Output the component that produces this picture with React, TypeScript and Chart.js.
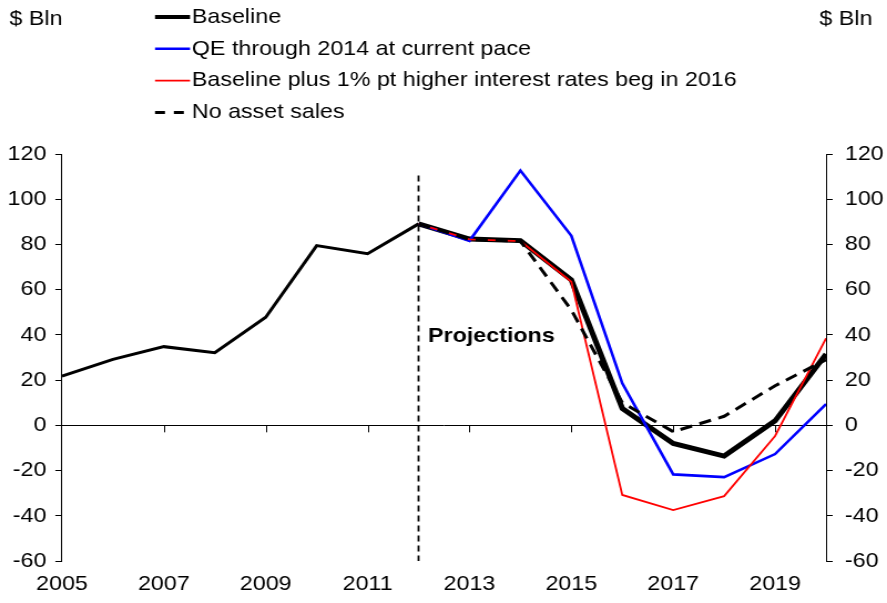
import React, { useEffect, useRef } from 'react';
import { Chart, registerables } from 'chart.js';

Chart.register(...registerables);

// ---- data ----
const years = [2005, 2006, 2007, 2008, 2009, 2010, 2011, 2012, 2013, 2014, 2015, 2016, 2017, 2018, 2019, 2020];
const baseline = [21.8, 29.2, 34.8, 32.1, 47.8, 79.5, 75.9, 89.1, 82.4, 81.7, 64.3, 7.5, -8.0, -13.6, 2.0, 31.5];
const qeThrough2014 = [null, null, null, null, null, null, null, 89.1, 81.6, 112.7, 83.8, 18.6, -21.7, -22.9, -12.7, 9.4];
const higherRates = [null, null, null, null, null, null, null, 89.1, 82.2, 81.5, 63.5, -30.8, -37.5, -31.3, -4.7, 38.5];
const noAssetSales = [null, null, null, null, null, null, null, 89.1, 82.2, 81.5, 51.0, 10.0, -2.8, 4.0, 17.5, 29.0];

const seriesNames = [
  'Baseline',
  'QE through 2014 at current pace',
  'Baseline plus 1% pt higher interest rates beg in 2016',
  'No asset sales',
];
const xTickYears = [2005, 2007, 2009, 2011, 2013, 2015, 2017, 2019];
const unitLabel = '$ Bln';
const projectionLabel = 'Projections';
const projectionYear = 2012;

// ---- layout (internal canvas is drawn narrower and stretched horizontally) ----
const OUT_W = 887;
const OUT_H = 603;
const W = 800;
const FONT_FAMILY = '"Liberation Sans", Arial, Helvetica, sans-serif';
const FONT_SIZE = 21;

const toPts = (arr: (number | null)[]) => arr.map((v, i) => ({ x: years[i], y: v }));

const overlayPlugin = {
  id: 'overlay',
  beforeDatasetsDraw(chart: any) {
    const { ctx, scales } = chart;
    const xs = scales.x;
    const ys = scales.y;
    const y0 = ys.getPixelForValue(0);
    ctx.save();
    // small tick marks below zero line
    ctx.strokeStyle = '#000';
    ctx.lineWidth = 1;
    ctx.beginPath();
    xTickYears.forEach((yr) => {
      if (yr === 2005) return;
      const px = Math.round(xs.getPixelForValue(yr)) + 0.5;
      ctx.moveTo(px, y0);
      ctx.lineTo(px, y0 + 7);
    });
    ctx.stroke();
    // projection divider
    const px = xs.getPixelForValue(projectionYear);
    ctx.setLineDash([6, 4]);
    ctx.lineWidth = 1.8;
    ctx.beginPath();
    ctx.moveTo(px, ys.getPixelForValue(110.5));
    ctx.lineTo(px, ys.getPixelForValue(-60));
    ctx.stroke();
    ctx.restore();
  },
  afterDraw(chart: any) {
    const { ctx, scales } = chart;
    const xs = scales.x;
    const ys = scales.y;
    ctx.save();
    ctx.fillStyle = '#000';
    ctx.textBaseline = 'middle';
    ctx.font = `${FONT_SIZE}px ${FONT_FAMILY}`;
    // unit labels
    ctx.textAlign = 'left';
    ctx.fillText(unitLabel, 8.5, 19);
    ctx.fillText(unitLabel, 739, 19);
    // legend
    const ds = chart.data.datasets;
    const legX0 = 139.8;
    const legX1 = 171.4;
    ds.forEach((d: any, i: number) => {
      const y = 17 + i * 31.8;
      ctx.save();
      ctx.strokeStyle = d.borderColor;
      ctx.lineWidth = d.legendWidth || d.borderWidth;
      ctx.setLineDash(d.borderDash && d.borderDash.length ? [9, 8] : []);
      ctx.beginPath();
      ctx.moveTo(legX0, y);
      ctx.lineTo(legX1, y);
      ctx.stroke();
      ctx.restore();
      ctx.fillText(d.label, 173, y);
    });
    // projections label
    ctx.font = `bold ${FONT_SIZE}px ${FONT_FAMILY}`;
    ctx.fillText(projectionLabel, xs.getPixelForValue(projectionYear) + 8.5, ys.getPixelForValue(39.5));
    ctx.restore();
  },
};

export default function App() {
  const ref = useRef<HTMLCanvasElement | null>(null);

  useEffect(() => {
    const canvas = ref.current;
    if (!canvas) return;
    const font = { family: FONT_FAMILY, size: FONT_SIZE };
    const chart = new Chart(canvas, {
      type: 'line',
      data: {
        datasets: [
          {
            label: seriesNames[0],
            data: toPts(baseline),
            borderColor: '#000000',
            borderWidth: 5,
            legendWidth: 4.2,
            segment: {
              borderWidth: (c: any) => (c.p1.parsed.x <= projectionYear ? 3 : 5),
            },
            order: 4,
          },
          {
            label: seriesNames[1],
            data: toPts(qeThrough2014),
            borderColor: '#0000FF',
            borderWidth: 2.6,
            order: 3,
          },
          {
            label: seriesNames[2],
            data: toPts(higherRates),
            borderColor: '#FF0000',
            borderWidth: 1.8,
            order: 2,
          },
          {
            label: seriesNames[3],
            data: toPts(noAssetSales),
            borderColor: '#000000',
            borderWidth: 3,
            borderDash: [11, 7],
            order: 1,
          },
        ] as any,
      },
      options: {
        responsive: false,
        animation: false,
        devicePixelRatio: 1,
        elements: {
          point: { radius: 0, hoverRadius: 0 },
          line: { tension: 0, borderCapStyle: 'butt', borderJoinStyle: 'miter', fill: false },
        },
        layout: { padding: { top: 154, left: 0, right: 0, bottom: 0 } },
        plugins: {
          legend: { display: false },
          tooltip: { enabled: false },
        },
        scales: {
          x: {
            type: 'linear',
            min: 2005,
            max: 2020,
            afterBuildTicks: (s: any) => {
              s.ticks = xTickYears.map((v) => ({ value: v }));
            },
            afterFit: (s: any) => {
              s.height = 42;
            },
            grid: { display: false, drawTicks: false },
            border: { display: false },
            ticks: {
              callback: (v: any) => String(v),
              font,
              color: '#000',
              padding: 11,
              maxRotation: 0,
              autoSkip: false,
            },
          },
          y: {
            position: 'left',
            min: -60,
            max: 120,
            ticks: { stepSize: 20, font, color: '#000', padding: 8 },
            grid: {
              color: (c: any) => (c.tick && c.tick.value === 0 ? '#000' : 'rgba(0,0,0,0)'),
              tickColor: '#000',
              tickLength: 6,
              lineWidth: 1,
            },
            border: { display: true, color: '#000', width: 1 },
            afterFit: (s: any) => {
              s.width = 55.9;
            },
          },
          y2: {
            position: 'right',
            min: -60,
            max: 120,
            ticks: { stepSize: 20, font, color: '#000', padding: 11 },
            grid: { drawOnChartArea: false, tickColor: '#000', tickLength: 6, lineWidth: 1 },
            border: { display: true, color: '#000', width: 1 },
            afterFit: (s: any) => {
              s.width = 55.0;
            },
          },
        },
      } as any,
      plugins: [overlayPlugin],
    });
    return () => chart.destroy();
  }, []);

  return (
    <div style={{ position: 'fixed', left: 0, top: 0, width: OUT_W, height: OUT_H, background: '#fff' }}>
      <canvas
        ref={ref}
        width={W}
        height={OUT_H}
        style={{ width: OUT_W + 'px', height: OUT_H + 'px', display: 'block' }}
      />
    </div>
  );
}
